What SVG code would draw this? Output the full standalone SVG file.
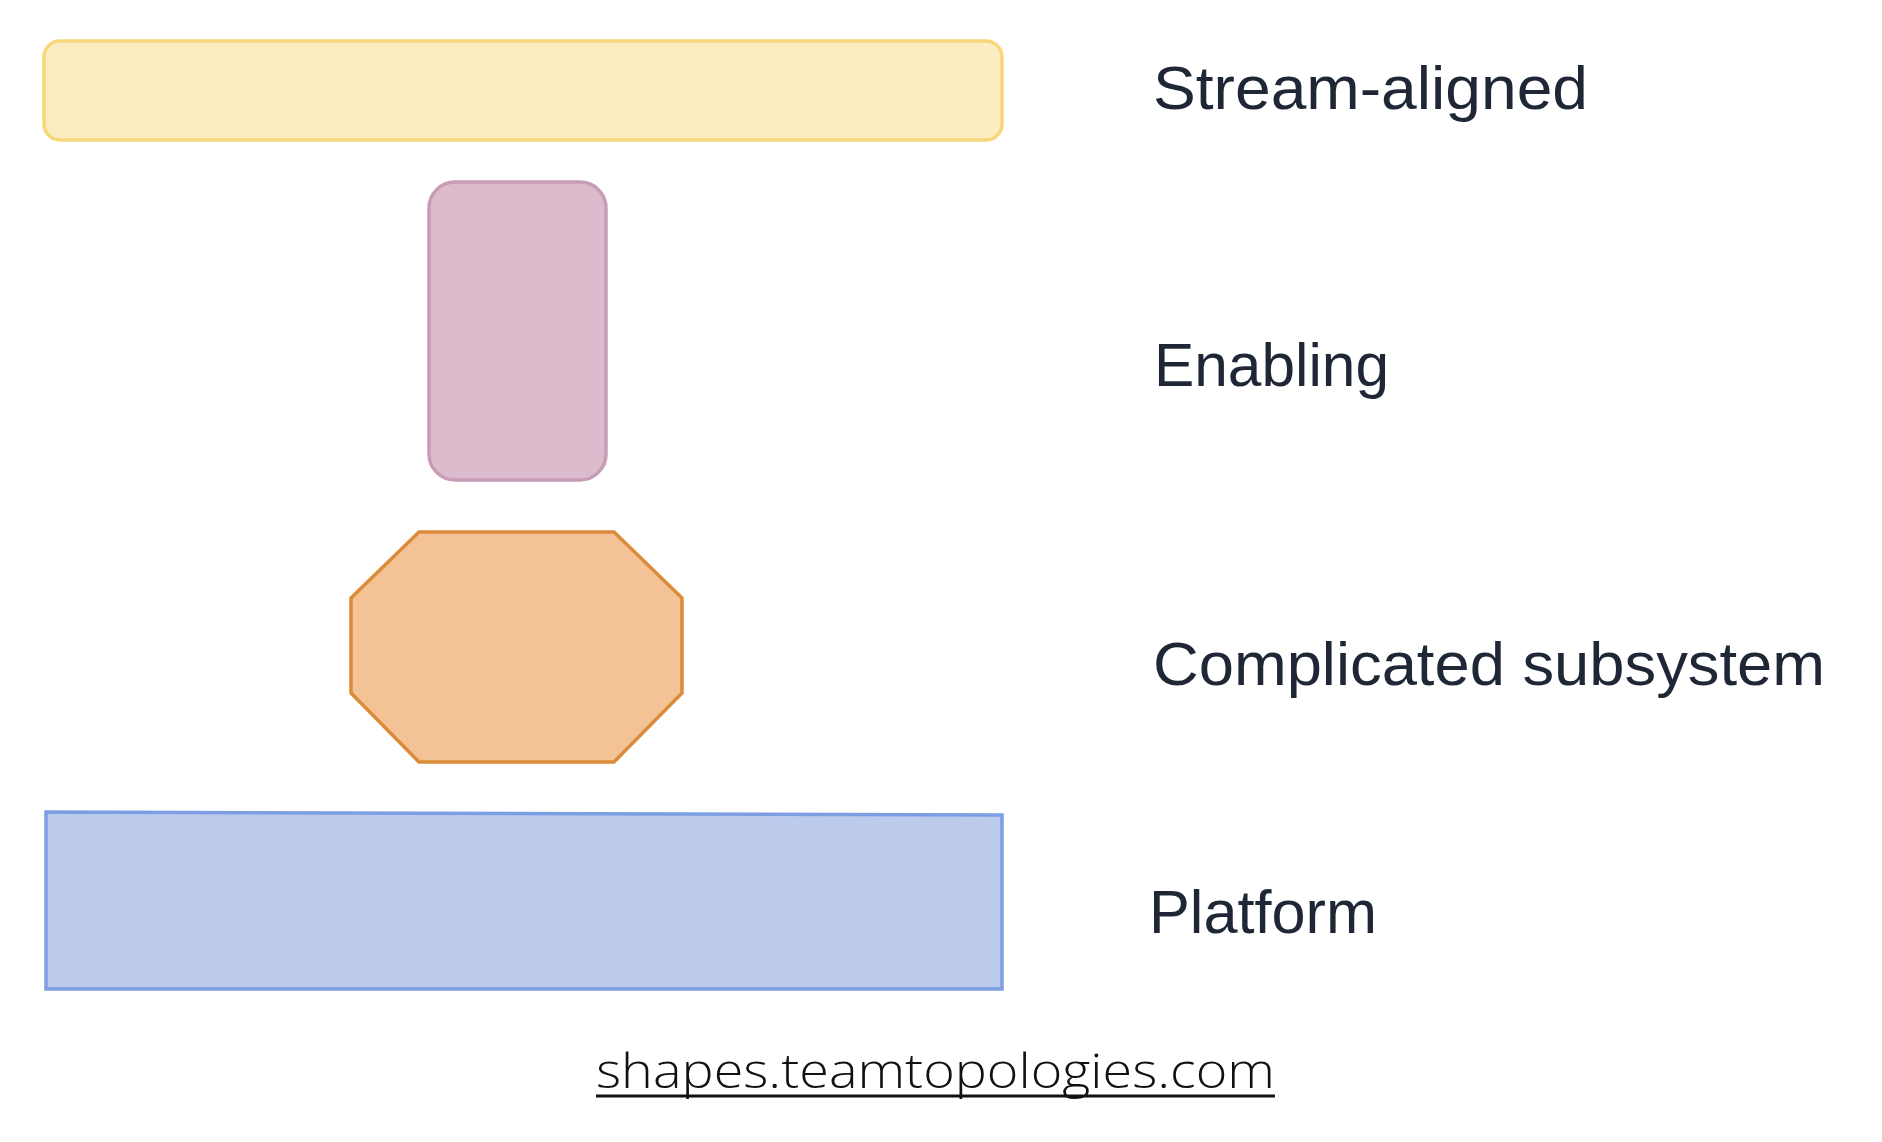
<svg xmlns="http://www.w3.org/2000/svg" width="1882" height="1142" viewBox="0 0 1882 1142">
<style>
.lbl{font-family:"Liberation Sans","DejaVu Sans",sans-serif;font-size:61px;fill:#1f2737;}
.foot{font-family:"Open Sans","Liberation Sans",sans-serif;font-weight:300;font-size:48px;fill:#111111;}
</style>
<rect width="1882" height="1142" fill="#ffffff"/>
<g id="connectors"></g>
<g id="stream-aligned">
<rect x="44" y="41" width="958" height="99" rx="16" ry="16" fill="#fbedc0" stroke="#f8d67a" stroke-width="3.5"/>
<text class="lbl" x="1153" y="109" textLength="435" lengthAdjust="spacingAndGlyphs">Stream-aligned</text>
</g>
<g id="enabling">
<rect x="429" y="182" width="177" height="298" rx="26" ry="26" fill="#dbbbcc" stroke="#c99cb6" stroke-width="3.5"/>
<text class="lbl" x="1154" y="386" textLength="235" lengthAdjust="spacingAndGlyphs">Enabling</text>
</g>
<g id="complicated-subsystem">
<polygon points="419,532 614,532 682,598 682,693 614,762 419,762 351,693 351,598" fill="#f3c396" stroke="#dc8b3a" stroke-width="3.5"/>
<text class="lbl" x="1153" y="685" textLength="672" lengthAdjust="spacingAndGlyphs">Complicated subsystem</text>
</g>
<g id="platform">
<polygon points="46,812 1002,815 1002,989 46,989" fill="#bccbec" stroke="#7c9ee3" stroke-width="3.5"/>
<text class="lbl" x="1149" y="933" textLength="228" lengthAdjust="spacingAndGlyphs">Platform</text>
</g>
<g id="footer">
<text class="foot" x="596" y="1088" textLength="679" lengthAdjust="spacingAndGlyphs">shapes.teamtopologies.com</text>
<line x1="596" y1="1096" x2="1275" y2="1096" stroke="#111111" stroke-width="3"/>
</g>
</svg>
